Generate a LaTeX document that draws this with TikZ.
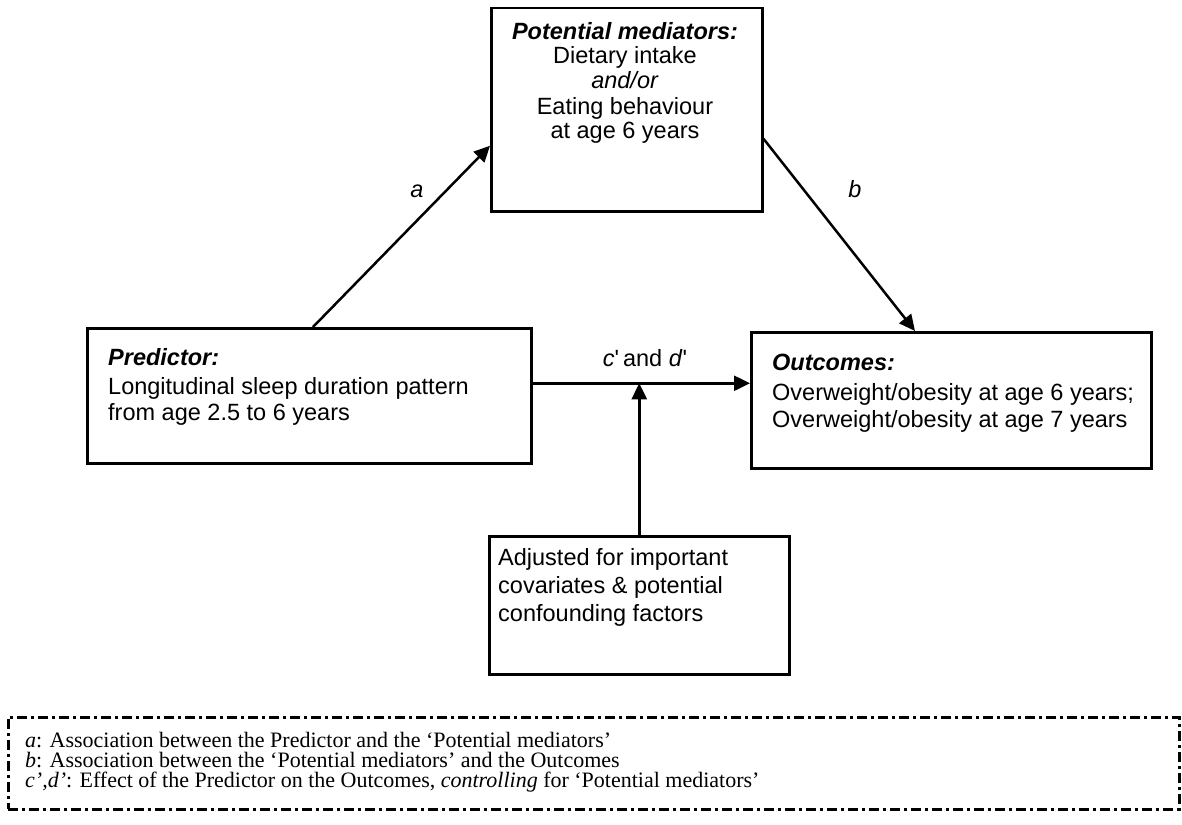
\documentclass[tikz,border=0pt]{standalone}
\usepackage{fontspec}
\setmainfont{Liberation Serif}
\newfontfamily\arial{Liberation Sans}
\usetikzlibrary{arrows.meta,calc}
\tikzset{
  box/.style={draw, line width=2.5pt, rectangle, inner sep=0pt, anchor=north west},
  arr/.style={line width=2.5pt, -{Triangle[length=16pt,width=15pt]}},
  sf/.style={font=\arial\fontsize{23.5}{27}\selectfont, inner sep=0pt},
  lg/.style={font=\fontsize{22}{22}\selectfont, inner sep=0pt, anchor=base west},
}
\begin{document}
\begin{tikzpicture}[x=1pt,y=-1pt]
\useasboundingbox (0,0) rectangle (1182,824);
% boxes
\node[box, minimum width=271pt, minimum height=203pt] (med) at (490,7) {};
\node[box, minimum width=444pt, minimum height=135pt] (pred) at (86,327) {};
\node[box, minimum width=400pt, minimum height=136pt] (out) at (750,331) {};
\node[box, minimum width=300pt, minimum height=138pt] (cov) at (488,535) {};
% mediator text
\node[sf, anchor=base] (m1) at (625,40) {\textbf{\textit{Potential mediators:}}};
\node[sf, anchor=base] (m2) at (625,64) {Dietary intake};
\node[sf, anchor=base] (m3) at (625,89) {\textit{and/or}};
\node[sf, anchor=base] (m4) at (625,114) {Eating behaviour};
\node[sf, anchor=base] (m5) at (625,139) {at age 6 years};
% predictor text
\node[sf, anchor=base west] (p1) at (108,365) {\textbf{\textit{Predictor:}}};
\node[sf, anchor=base west] (p2) at (108,394) {Longitudinal sleep duration pattern};
\node[sf, anchor=base west] (p3) at (108,420) {from age 2.5 to 6 years};
% outcomes text
\node[sf, anchor=base west] (o1) at (772,370) {\textbf{\textit{Outcomes:}}};
\node[sf, anchor=base west] (o2) at (772,400) {Overweight/obesity at age 6 years;};
\node[sf, anchor=base west] (o3) at (772,427) {Overweight/obesity at age 7 years};
% covariates text
\node[sf, anchor=base west] (c1) at (498,565) {Adjusted for important};
\node[sf, anchor=base west] (c2) at (498,593) {covariates \& potential};
\node[sf, anchor=base west] (c3) at (498,621) {confounding factors};
% connectors
\draw[arr] ([xshift=227pt]pred.north west) -- ([yshift=-36pt]med.west);
\node[sf, anchor=base] (la) at (417,197) {\textit{a}};
\draw[arr] ([yshift=-29pt]med.east) -- ([xshift=165pt]out.north west);
\node[sf, anchor=base] (lb) at (855,197) {\textit{b}};
\coordinate (cL) at ([yshift=12.5pt]pred.east);
\draw[arr] (cL) -- (cL -| out.west);
\node[sf, anchor=base] (lc) at (645,366) {\textit{c}'\,and \textit{d}'};
\draw[arr] (cov.north) -- (cov.north |- cL);
% legend
\node[draw, line width=2.5pt, dash pattern=on 10pt off 4pt on 3pt off 4pt, rectangle, inner sep=0pt, minimum width=1171pt, minimum height=92pt, anchor=north west] (leg) at (7,716) {};
\node[lg] (l1) at (25,747) {\textit{a}: Association between the Predictor and the ‘Potential mediators’};
\node[lg] (l2) at (25,767) {\textit{b}: Association between the ‘Potential mediators’ and the Outcomes};
\node[lg] (l3) at (25,787) {\textit{c',d'}: Effect of the Predictor on the Outcomes, \textit{controlling} for ‘Potential mediators’};
\end{tikzpicture}
\end{document}
